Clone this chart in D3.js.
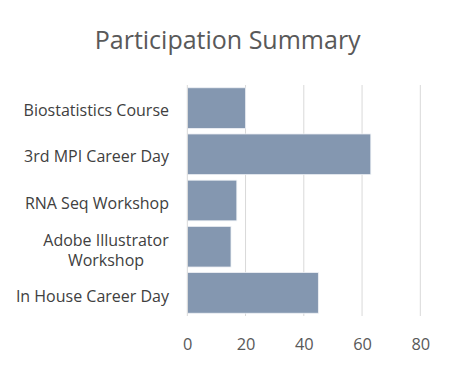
<!DOCTYPE html>
<html><head><meta charset="utf-8">
<script src="https://cdn.jsdelivr.net/npm/d3@7"></script>
<style>body{margin:0;background:#fff;} svg{display:block;} text{font-variant-ligatures:none;}</style>
</head><body>
<svg id="chart" width="457" height="367"></svg>
<script>
(function () {
const categories = ["Biostatistics Course", "3rd MPI Career Day", "RNA Seq Workshop", "Adobe Illustrator Workshop", "In House Career Day"];
const labelLines = [["Biostatistics Course"], ["3rd MPI Career Day"], ["RNA Seq Workshop"], ["Adobe Illustrator", "Workshop"], ["In House Career Day"]];
const values = [20, 63, 17, 15, 45];
const xTicks = [0, 20, 40, 60, 80];
const title = "Participation Summary";

const svg = d3.select("#chart");
const font = "'Open Sans', sans-serif";
const pLeft = 187.3, pRight = 420.3, pTop = 85, pBottom = 316;

const x = d3.scaleLinear().domain([0, 80]).range([pLeft, pRight]);
const y = d3.scaleBand().domain(categories).range([pTop, pBottom]).paddingInner(0.12).paddingOuter(0.06);
const yLab = d3.scalePoint().domain(categories).range([115.7, 302.3]);

svg.append("text").attr("x", 227.7).attr("y", 49).attr("text-anchor", "middle")
  .attr("font-family", font).attr("font-size", 25).attr("fill", "#595959").text(title);

svg.append("g").selectAll("line").data(xTicks.slice(1)).join("line")
  .attr("x1", d => x(d)).attr("x2", d => x(d)).attr("y1", pTop).attr("y2", pBottom)
  .attr("stroke", "#d9d9d9").attr("stroke-width", 1);

svg.append("g").selectAll("rect").data(values).join("rect")
  .attr("x", x(0)).attr("y", (d, i) => y(categories[i]))
  .attr("width", d => x(d) - x(0)).attr("height", y.bandwidth())
  .attr("fill", "#8497B0").attr("stroke", "#eef1f5").attr("stroke-width", 0.8);

svg.append("line").attr("x1", x(0)).attr("x2", x(0)).attr("y1", pTop).attr("y2", pBottom)
  .attr("stroke", "#d9d9d9").attr("stroke-width", 1);

const xAxis = d3.axisBottom(x).tickValues(xTicks).tickSize(0).tickPadding(0);
const gx = svg.append("g").attr("transform", "translate(0,350)").call(xAxis);
gx.select(".domain").remove();
gx.selectAll("text").attr("font-family", font).attr("font-size", 16.4).attr("fill", "#595959").attr("dy", 0).attr("y", 0);

const gy = svg.append("g");
labelLines.forEach((lines, i) => {
  const base = yLab(categories[i]);
  const multi = lines.length > 1;
  const t = gy.append("text").attr("font-family", font).attr("font-size", 16).attr("fill", "#404040")
    .attr("text-anchor", multi ? "middle" : "end");
  const lh = 20;
  lines.forEach((ln, j) => {
    t.append("tspan").attr("x", multi ? 106 : 169)
      .attr("y", base + (j - (lines.length - 1) / 2) * lh).text(ln);
  });
});
})();
</script>
</body></html>
